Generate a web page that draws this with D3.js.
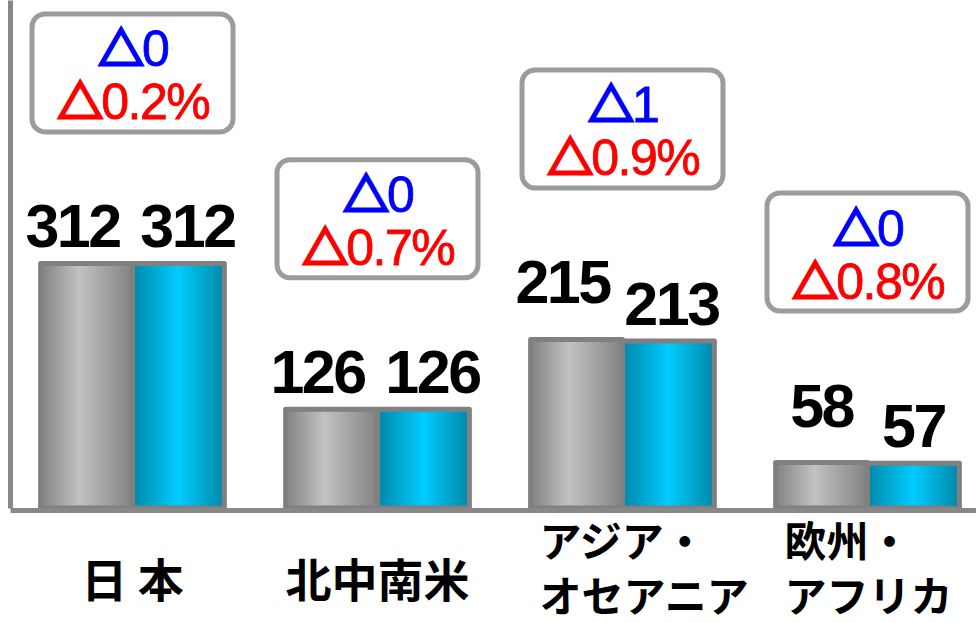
<!DOCTYPE html>
<meta charset="utf-8">
<html lang="ja">
<head>
    <title>地域別</title>
    <script type="text/javascript" src="https://d3js.org/d3.v7.min.js"></script>
</head>
<style>
    body { margin: 0; background: #fff; }
    .val { font-family: "Liberation Sans", Arial, sans-serif; font-weight: bold; font-size: 61px; letter-spacing: -2.5px; text-anchor: middle; }
    .diff { font-family: "Liberation Sans", Arial, sans-serif; font-size: 50px; letter-spacing: -1.5px; text-anchor: middle; stroke-width: 0.8px; }
    .tri { font-family: "Noto Sans CJK JP", sans-serif; font-weight: 700; font-size: 45px; stroke-width: 3px; stroke-linejoin: miter; }
    .cat { font-family: "Noto Sans CJK JP", sans-serif; font-weight: 700; }
    .axis path { stroke: #888; stroke-width: 5px; }
</style>
<body>
<script>
    var categories = ["日 本", "北中南米", "アジア・\nオセアニア", "欧州・\nアフリカ"];
    var prevValues = [312, 126, 215, 58];
    var currValues = [312, 126, 213, 57];
    var countChange = [0, 0, 1, 0];
    var pctChange = [0.2, 0.7, 0.9, 0.8];
    var series = ["prev", "curr"];

    var width = 976, height = 623, base = 508;

    var svg = d3.select("body").append("svg").attr("width", width).attr("height", height);
    var defs = svg.append("defs");

    function grad(id, edge, mid, at) {
        var g = defs.append("linearGradient").attr("id", id)
            .attr("x1", "0%").attr("x2", "100%").attr("y1", "0%").attr("y2", "0%");
        g.append("stop").attr("offset", "0%").attr("stop-color", edge);
        g.append("stop").attr("offset", at).attr("stop-color", mid);
        g.append("stop").attr("offset", "100%").attr("stop-color", edge);
    }
    grad("g-prev", "#828282", "#c2c2c2", "42%");
    grad("g-curr", "#0087a7", "#00ccff", "50%");

    var x = d3.scaleBand().domain(categories).range([10, 990]).paddingInner(0.25).paddingOuter(0.125);
    var xs = d3.scaleBand().domain(series).range([0, x.bandwidth()]);
    var y = d3.scaleLinear().domain([0, 648]).range([base, 0]);

    var rows = categories.map(function (c, i) {
        return {cat: c, prev: prevValues[i], curr: currValues[i], cnt: countChange[i], pct: pctChange[i]};
    });

    var groups = svg.selectAll(".grp").data(rows).enter().append("g")
        .attr("class", "grp")
        .attr("transform", d => "translate(" + x(d.cat) + ",0)");

    groups.selectAll("rect.bar")
        .data(d => series.map(k => ({key: k, value: d[k]})))
        .enter().append("rect").attr("class", "bar")
        .attr("x", d => xs(d.key))
        .attr("y", d => y(d.value))
        .attr("width", xs.bandwidth())
        .attr("height", d => base - y(d.value))
        .attr("fill", d => "url(#g-" + d.key + ")")
        .attr("stroke", "#808080")
        .attr("stroke-width", 5)
        .attr("stroke-linejoin", "round");

    // value labels: left one lifted when it is the taller bar, wide ones pushed apart
    function labelY(d, k) {
        var lift = (k == "prev" && d.prev > d.curr) ? 20 : 0;
        return y(d[k]) - 16 - lift;
    }
    function labelDx(d, k) {
        if (String(d[k]).length < 3) return 0;
        return k == "prev" ? -14 : (d.prev == d.curr ? 9 : 3);
    }
    series.forEach(function (k) {
        groups.append("text").attr("class", "val")
            .attr("x", d => xs(k) + xs.bandwidth() / 2 + labelDx(d, k))
            .attr("y", d => labelY(d, k))
            .text(d => d[k]);
    });

    // change boxes
    var boxW = 201, boxH = 118;
    groups.each(function (d) {
        var g = d3.select(this);
        var baseline = Math.min(labelY(d, "prev"), labelY(d, "curr"));
        var outerTop = baseline - 113 - (boxH + 5);
        var cx = x.bandwidth() / 2;
        g.append("rect")
            .attr("x", cx - boxW / 2).attr("y", outerTop + 2.5)
            .attr("width", boxW).attr("height", boxH)
            .attr("rx", 13)
            .attr("fill", "#fff").attr("stroke", "#9c9c9c").attr("stroke-width", 5);
        var t1 = g.append("text").attr("class", "diff").attr("fill", "#0000ff").attr("stroke", "#0000ff")
            .attr("x", cx + 1).attr("y", outerTop + 55);
        t1.append("tspan").attr("class", "tri").text("△");
        t1.append("tspan").text(d.cnt);
        var t2 = g.append("text").attr("class", "diff").attr("fill", "#ff0000").attr("stroke", "#ff0000")
            .attr("x", cx + 1).attr("y", outerTop + 108);
        t2.append("tspan").attr("class", "tri").text("△");
        t2.append("tspan").text(d.pct.toFixed(1) + "%");
    });

    // axes
    svg.append("g").attr("class", "axis")
        .attr("transform", "translate(10,0)")
        .call(d3.axisLeft(y).ticks(0).tickSize(0).tickSizeOuter(0))
        .selectAll("text").remove();
    svg.append("g").attr("class", "axis")
        .attr("transform", "translate(0," + (base + 2) + ")")
        .call(d3.axisBottom(x).tickSize(0).tickSizeOuter(0).tickFormat(""));

    // category labels
    rows.forEach(function (d) {
        var lines = d.cat.split("\n");
        var cx = x(d.cat) + x.bandwidth() / 2;
        if (lines.length == 1) {
            svg.append("text").attr("class", "cat")
                .attr("x", cx).attr("y", 597)
                .attr("text-anchor", "middle").style("font-size", "46px")
                .text(lines[0]);
        } else {
            var t = svg.append("text").attr("class", "cat")
                .attr("x", cx - 83).attr("y", 557)
                .attr("text-anchor", "start").style("font-size", "42px");
            lines.forEach(function (s, j) {
                t.append("tspan").attr("x", cx - 83).attr("dy", j ? 55 : 0).text(s);
            });
        }
    });
</script>
</body>
</html>
